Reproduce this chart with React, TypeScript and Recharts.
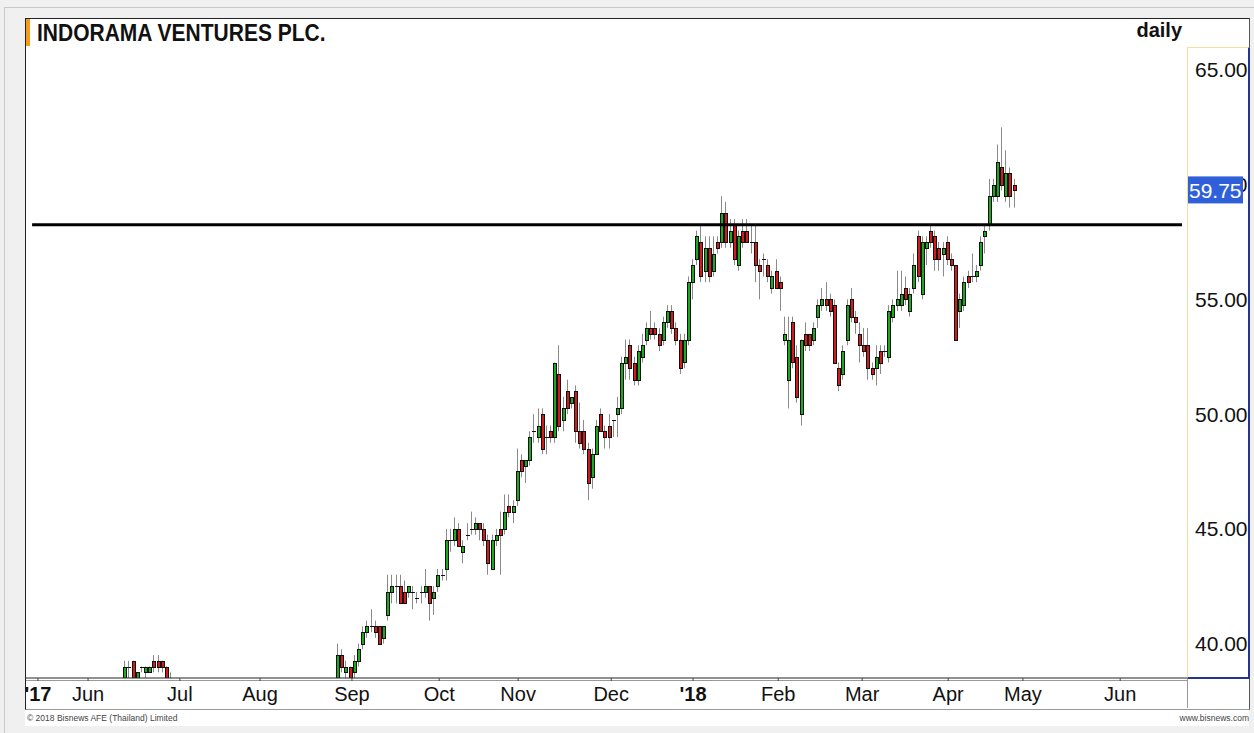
import React from 'react';
import { ComposedChart, Bar, XAxis, YAxis, ReferenceLine } from 'recharts';

const FONT = "'Liberation Sans', Arial, Helvetica, sans-serif";

// x axis = trading-day slots; month labels sit on the first session of each month
const MONTH_TICKS = [2.2, 14.2, 36.2, 55.4, 77.4, 98.3, 117.2, 139.5, 159.1, 179.5, 199.6, 220.2, 238.1, 261.4];
const MONTH_LABELS = ["'17", 'Jun', 'Jul', 'Aug', 'Sep', 'Oct', 'Nov', 'Dec', "'18", 'Feb', 'Mar', 'Apr', 'May', 'Jun'];
const PRICE_TICKS = [40, 45, 50, 55, 60, 65];
const MINOR_TICKS = Array.from({ length: 56 }, (_, k) => 38.5 + k * 0.5);

const RESISTANCE = 58.25;
const LAST_CLOSE = 59.75;

// [open, high, low, close]
const JUN_2017_START = 23;
const JUN_2017 = [
    [38.25, 39.25, 38.0, 39.0], [39.0, 39.25, 38.5, 39.0], [39.25, 39.25, 38.25, 38.5], [38.5, 38.75, 38.25, 38.75],
    [39.0, 39.0, 38.75, 39.0], [38.75, 39.0, 38.5, 39.0], [38.75, 39.0, 38.75, 39.0], [39.25, 39.5, 38.75, 39.0],
    [39.25, 39.5, 38.75, 39.0], [39.25, 39.25, 38.75, 39.0], [39.0, 39.0, 38.25, 38.5], [38.5, 38.75, 38.0, 38.25],
];

const SEP_2017_START = 74;
const SEP_DEC_2017 = [
    [38.5, 40.0, 38.25, 39.5], [39.5, 39.75, 38.75, 39.0], [38.75, 39.25, 38.5, 39.0], [39.0, 39.0, 38.25, 38.5],
    [38.75, 39.5, 38.5, 39.25], [39.25, 40.0, 39.0, 39.75], [40.0, 40.75, 39.75, 40.5], [40.5, 41.0, 40.25, 40.75],
    [40.75, 41.5, 40.5, 40.75], [40.75, 41.0, 40.25, 40.5], [40.75, 40.75, 40.0, 40.0], [40.25, 40.75, 40.0, 40.75],
    [41.25, 43.0, 41.0, 42.25], [42.25, 43.0, 41.75, 42.5], [42.5, 43.0, 41.75, 42.5], [42.5, 43.0, 41.75, 41.75],
    [42.25, 42.75, 41.75, 41.75], [42.25, 42.5, 42.0, 42.5], [42.25, 42.5, 41.5, 42.25], [42.0, 42.25, 41.75, 42.0],
    [42.25, 42.5, 41.75, 42.25], [42.25, 43.25, 42.0, 42.5], [42.5, 42.5, 41.0, 41.75], [42.0, 42.5, 41.25, 42.25],
    [42.5, 43.25, 42.25, 43.0], [43.0, 43.25, 42.75, 43.0], [43.25, 45.0, 42.75, 44.5], [44.5, 45.0, 44.0, 44.5],
    [44.5, 45.5, 44.25, 45.0], [45.0, 45.25, 44.25, 44.25], [44.0, 44.5, 43.5, 44.25], [44.75, 45.25, 44.5, 44.75],
    [45.0, 45.75, 44.75, 45.0], [45.0, 45.5, 44.75, 45.25], [45.25, 45.25, 44.5, 45.0], [45.0, 45.25, 44.25, 44.5],
    [44.5, 44.75, 43.0, 43.5], [43.25, 44.75, 43.25, 44.5], [44.5, 45.0, 44.25, 44.75], [45.0, 45.75, 43.0, 44.75],
    [45.0, 46.5, 44.75, 45.75], [46.0, 46.5, 45.5, 45.75], [45.75, 46.25, 45.25, 46.0], [46.25, 48.5, 46.0, 47.5],
    [48.0, 48.25, 47.25, 47.5], [47.75, 48.0, 47.0, 48.0], [48.0, 49.25, 47.75, 49.0], [49.25, 50.0, 48.75, 49.25],
    [49.0, 50.25, 48.75, 49.5], [50.0, 50.25, 48.25, 48.5], [49.0, 49.5, 48.25, 49.0], [49.25, 49.5, 48.75, 49.0],
    [49.0, 52.25, 48.75, 52.25], [51.75, 53.0, 49.25, 49.5], [49.75, 50.75, 49.25, 50.25], [51.0, 51.5, 50.0, 50.25],
    [50.5, 50.75, 50.25, 50.75], [51.0, 51.25, 48.75, 49.25], [49.25, 50.5, 48.5, 48.75], [49.25, 49.75, 48.25, 48.5],
    [48.5, 48.75, 46.25, 47.0], [47.25, 48.5, 46.75, 48.25], [48.25, 49.75, 48.25, 49.5], [50.0, 50.25, 49.25, 49.25],
    [49.25, 49.5, 48.5, 49.0], [49.5, 50.0, 48.5, 49.0], [49.75, 49.75, 49.0, 49.75], [50.0, 50.75, 49.0, 50.25],
    [50.25, 52.5, 50.0, 52.25], [52.25, 53.25, 51.5, 52.5], [53.0, 53.25, 51.5, 52.0], [52.25, 52.5, 51.25, 51.5],
    [51.5, 53.0, 51.25, 52.75], [52.5, 53.5, 52.25, 53.0], [53.25, 54.0, 53.0, 53.75], [53.75, 54.5, 53.25, 53.5],
    [53.75, 54.0, 53.25, 53.5], [53.5, 53.75, 52.75, 53.0], [53.25, 54.25, 53.0, 54.0], [54.0, 54.75, 53.75, 54.5],
    [54.5, 54.75, 53.5, 53.75], [53.75, 54.0, 53.0, 53.25], [53.25, 53.5, 51.75, 52.0], [52.25, 53.5, 52.0, 53.25],
    [53.25, 56.0, 53.0, 55.75],
];

const JAN_2018_START = 159;
const JAN_APR_2018 = [
    [55.75, 56.75, 55.0, 56.5], [56.75, 58.0, 56.5, 57.75], [57.5, 58.25, 55.75, 56.0], [56.25, 57.75, 55.75, 57.25],
    [57.25, 57.75, 55.75, 56.0], [56.25, 57.75, 56.0, 57.0], [57.5, 57.75, 57.0, 57.25], [57.5, 59.5, 57.25, 58.75],
    [58.75, 59.25, 57.25, 57.5], [57.5, 58.5, 57.25, 58.0], [58.25, 58.5, 56.5, 56.75], [56.5, 58.0, 56.25, 57.75],
    [58.0, 58.5, 57.25, 57.5], [58.0, 58.5, 57.5, 57.5], [57.5, 58.25, 57.0, 57.5], [57.5, 58.25, 55.75, 56.5],
    [56.5, 56.75, 55.0, 56.25], [56.75, 57.0, 56.0, 56.75], [56.5, 56.75, 55.75, 56.0], [55.5, 56.25, 55.25, 56.0],
    [56.25, 56.75, 55.5, 55.5], [55.75, 56.0, 54.5, 55.5], [53.25, 54.25, 53.0, 53.5], [51.5, 54.25, 50.25, 53.25],
    [54.0, 54.25, 52.0, 52.25], [52.5, 53.0, 50.5, 50.75], [50.0, 53.25, 49.5, 53.25], [53.5, 54.0, 52.75, 53.0],
    [53.5, 53.5, 52.75, 53.0], [53.25, 54.0, 53.0, 53.75], [54.25, 55.0, 53.75, 54.75], [54.75, 55.5, 54.5, 55.0],
    [55.0, 55.75, 54.5, 54.75], [55.0, 55.25, 54.25, 54.5], [54.75, 55.0, 52.25, 52.25], [52.0, 52.25, 51.0, 51.25],
    [51.75, 53.0, 51.5, 52.75], [53.25, 55.0, 53.0, 54.75], [55.0, 55.5, 54.0, 54.25], [54.25, 54.5, 53.5, 54.0],
    [53.5, 54.0, 52.25, 53.0], [53.0, 53.75, 52.5, 52.75], [53.0, 53.75, 51.5, 52.0], [52.0, 52.25, 51.5, 51.75],
    [52.0, 53.0, 51.25, 52.5], [52.75, 53.0, 51.75, 52.25], [52.75, 53.0, 52.5, 52.75], [52.5, 54.75, 52.25, 54.5],
    [54.25, 55.0, 54.0, 54.75], [54.75, 56.25, 54.5, 55.0], [54.75, 56.25, 54.5, 55.25], [55.5, 56.0, 54.75, 55.0],
    [54.5, 55.5, 54.25, 55.25], [55.5, 57.0, 55.25, 56.5], [57.75, 58.0, 55.75, 56.0], [55.25, 57.75, 55.0, 57.5],
    [57.25, 57.75, 56.5, 57.5], [58.0, 58.25, 57.25, 57.5], [57.75, 58.0, 56.25, 56.75], [57.25, 57.5, 56.25, 56.75],
    [57.0, 57.5, 56.0, 57.25], [57.5, 57.75, 56.5, 56.75], [56.75, 57.0, 56.25, 56.5], [56.5, 56.5, 53.25, 53.25],
    [54.5, 55.25, 53.75, 55.0], [54.75, 56.0, 54.5, 55.75], [56.0, 56.25, 55.5, 55.75], [56.0, 57.0, 55.75, 56.0],
    [56.0, 56.5, 55.75, 56.25], [56.5, 57.75, 56.25, 57.5], [57.75, 58.25, 57.0, 58.0], [58.25, 60.25, 58.0, 59.5],
    [59.5, 60.25, 59.25, 60.0], [59.5, 61.75, 59.25, 61.0], [60.75, 62.5, 59.75, 60.0], [59.5, 61.5, 59.25, 60.5],
    [60.5, 60.75, 59.0, 59.5], [60.0, 60.25, 59.0, 59.75],
];

type Candle = { i: number; open: number; high: number; low: number; close: number };

const toRows = (start: number, rows: number[][]): Candle[] =>
    rows.map(([open, high, low, close], k) => ({ i: start + k, open, high, low, close }));

const candles: Candle[] = [
    ...toRows(JUN_2017_START, JUN_2017),
    ...toRows(SEP_2017_START, SEP_DEC_2017),
    ...toRows(JAN_2018_START, JAN_APR_2018),
];

const UP = '#1ea81e';
const DOWN = '#d21b1b';
const WICK = '#8a8a8a';

// bar spans low..high, body placed inside it by proportion
const CandleShape = (props: any) => {
    const { x, y, width, height, payload } = props;
    if (x == null || y == null || !payload) return null;
    const { open, high, low, close } = payload as Candle;
    const top = Math.min(y, y + height);
    const span = Math.abs(height);
    const px = (v: number) => top + ((high - v) / (high - low)) * span;
    const col = Math.floor(x + width / 2);
    const yT = Math.round(px(Math.max(open, close))) + 0.5;
    const yB = Math.round(px(Math.min(open, close))) + 0.5;
    return (
        <g>
            <line x1={col + 0.5} x2={col + 0.5} y1={top} y2={top + span} stroke={WICK} strokeWidth={1} />
            {yB - yT < 1 ? (
                <line x1={col - 1} x2={col + 3} y1={yT} y2={yT} stroke="#111" strokeWidth={1} />
            ) : (
                <rect x={col - 0.5} y={yT} width={3} height={yB - yT}
                    fill={close >= open ? UP : DOWN} stroke="#111" strokeWidth={1} />
            )}
        </g>
    );
};

const MonthTick = ({ x, y, payload }: any) => {
    const label = MONTH_LABELS[MONTH_TICKS.indexOf(payload.value)] ?? '';
    const year = label.startsWith("'");
    return (
        <text x={x} y={y} dy={18} textAnchor="middle" fontSize={20} fontFamily={FONT}
            fontWeight={year ? 700 : 400} fill="#111">
            {label}
        </text>
    );
};

// the last close is listed after the round ticks so its blue tag paints over "60.00"
const PriceTick = ({ x, y, payload }: any) => {
    const v = Number(payload.value);
    if (v === LAST_CLOSE) {
        return (
            <g>
                <rect x={x - 7} y={y - 14} width={55} height={27} fill="#2f5fd9" />
                <text x={x - 6} y={y} dy={7.5} textAnchor="start" fontSize={21} fontFamily={FONT} fill="#fff">
                    {v.toFixed(2)}
                </text>
            </g>
        );
    }
    return (
        <text x={x} y={y} dy={7.5} textAnchor="start" fontSize={21} fontFamily={FONT} fill="#111">
            {v.toFixed(2)}
        </text>
    );
};

export default function App() {
    return (
        <div style={{ position: 'absolute', left: 0, top: 0, width: 1254, height: 733, background: '#f0f0f0', overflow: 'hidden', fontFamily: FONT }}>
            {/* outer panel edge */}
            <div style={{ position: 'absolute', left: 4, top: 7, width: 1250, height: 726, borderTop: '1px solid #c9c9c9', borderLeft: '1px solid #c9c9c9' }} />
            {/* white chart sheet */}
            <div style={{ position: 'absolute', left: 25, top: 18, width: 1224, height: 708, background: '#fff' }} />
            <div style={{ position: 'absolute', left: 25, top: 18, width: 1223, height: 690, borderTop: '1px solid #222', borderLeft: '1px solid #222', borderRight: '1px solid #555', borderBottom: '1px solid #999' }} />
            {/* price axis box */}
            <div style={{ position: 'absolute', left: 1187, top: 47, width: 60, height: 629, borderTop: '1px solid #f3dfa0', borderLeft: '1px solid #f3dfa0', borderRight: '2px solid #26358c', borderBottom: '2px solid #26358c' }} />
            <div style={{ position: 'absolute', left: 1187, top: 679, width: 1, height: 29, background: '#999' }} />
            <div style={{ position: 'absolute', left: 26, top: 680, width: 1161, height: 1, background: '#999' }} />
            {/* header */}
            <div style={{ position: 'absolute', left: 26, top: 19, width: 4, height: 27, background: '#f59a1a' }} />
            <div style={{ position: 'absolute', left: 37, top: 23, fontSize: 21, lineHeight: '21px', fontWeight: 700, color: '#111', whiteSpace: 'nowrap', transform: 'scaleY(1.14)', transformOrigin: '0 18px' }}>
                INDORAMA VENTURES PLC.
            </div>
            <div style={{ position: 'absolute', right: 1254 - 1182, top: 20, fontSize: 20, lineHeight: '20px', fontWeight: 700, color: '#111' }}>
                daily
            </div>
            {/* footer */}
            <div style={{ position: 'absolute', left: 27, top: 713, fontSize: 8.5, lineHeight: '10px', color: '#444' }}>
                © 2018 Bisnews AFE (Thailand) Limited
            </div>
            <div style={{ position: 'absolute', right: 1254 - 1249, top: 713, fontSize: 8.5, lineHeight: '10px', color: '#444' }}>
                www.bisnews.com
            </div>

            <div style={{ position: 'absolute', left: 0, top: 0 }}>
                <ComposedChart width={1254} height={733} data={candles}
                    margin={{ top: 47, right: 5, bottom: 25, left: 25 }}>
                    <XAxis type="number" dataKey="i" domain={[-0.9, 277.4]} allowDataOverflow
                        ticks={MONTH_TICKS} interval={0} height={30}
                        axisLine={{ stroke: '#222' }} tickLine={{ stroke: '#444' }} tickSize={3} tickMargin={2}
                        tick={<MonthTick />} />
                    <YAxis yAxisId="price" orientation="right" width={62} domain={[38.5, 66]} allowDataOverflow
                        ticks={[...PRICE_TICKS, LAST_CLOSE]} interval={0} axisLine={false} tickLine={false}
                        tickSize={6} tickMargin={2} tick={<PriceTick />} />
                    <YAxis yAxisId="minorL" orientation="left" mirror domain={[38.5, 66]} allowDataOverflow
                        ticks={MINOR_TICKS} interval={0} axisLine={false} tick={false} tickSize={3}
                        tickLine={{ stroke: '#222' }} />
                    <YAxis yAxisId="minorR" orientation="right" mirror domain={[38.5, 66]} allowDataOverflow
                        ticks={MINOR_TICKS} interval={0} axisLine={false} tick={false} tickSize={3}
                        tickLine={{ stroke: '#222' }} />
                    <Bar yAxisId="price" dataKey={(d: Candle) => [d.low, d.high]} barSize={4}
                        shape={<CandleShape />} isAnimationActive={false} />
                    <ReferenceLine yAxisId="price" stroke="#000" strokeWidth={3}
                        segment={[{ x: 0.8, y: RESISTANCE }, { x: 276.2, y: RESISTANCE }]} />
                </ComposedChart>
            </div>
        </div>
    );
}
